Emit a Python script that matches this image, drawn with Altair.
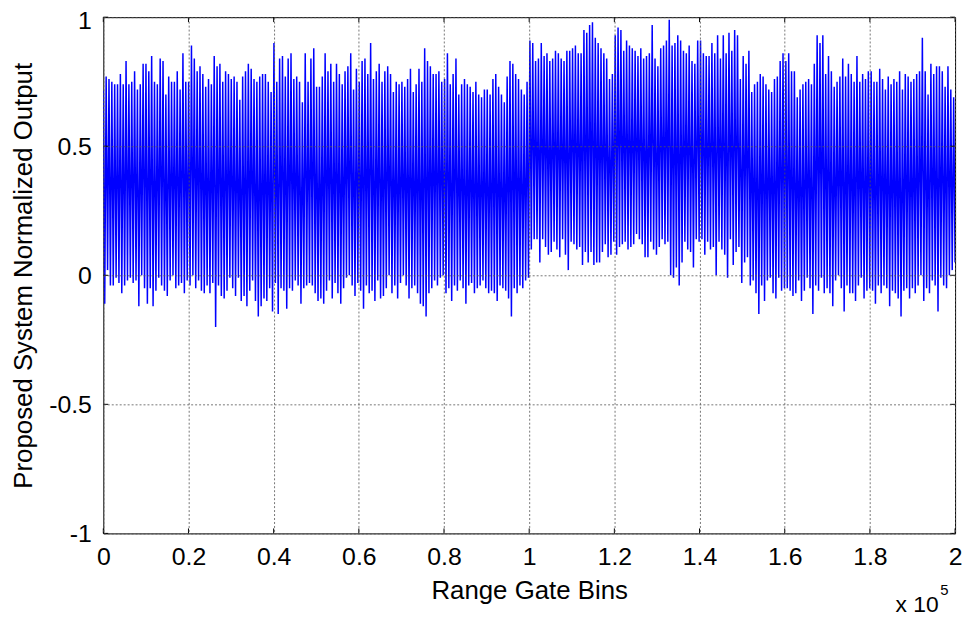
import altair as alt
import pandas as pd

# ---- axis ticks ----
x_ticks = [0, 20000, 40000, 60000, 80000, 100000, 120000, 140000, 160000, 180000, 200000]
y_ticks = [-1, -0.5, 0, 0.5, 1]

# ---- signal: successive peak (hi) and trough (lo) values, in hundredths, read block by block (0.2e5 bins per block) ----
hi_b1 = [72, 77, 76, 75, 74, 74, 78, 74, 83, 74, 75, 79, 72, 74, 82, 82, 79, 85, 75, 74, 84, 83, 70, 77, 75, 75, 79, 72, 86, 75]
lo_b1 = [-11, 2, -4, -4, -1, -3, -7, -4, -2, -1, -3, -2, -12, 0, -5, -11, -5, -12, -6, -1, -4, -6, -8, -2, 0, -5, -4, -3, -7, -2]
hi_b2 = [75, 89, 84, 79, 81, 78, 73, 76, 74, 85, 81, 82, 75, 79, 78, 76, 77, 75, 68, 77, 79, 82, 80, 76, 75, 77, 78, 78, 75, 71]
lo_b2 = [-4, 0, -5, -2, -6, -7, -4, -7, -3, -20, -4, -8, -9, -6, -1, -5, -8, -1, -10, -8, -12, -6, -2, -10, -16, -12, -9, -10, -5, -14]
hi_b3 = [90, 75, 84, 85, 77, 84, 86, 76, 77, 75, 67, 86, 75, 84, 88, 73, 73, 77, 86, 79, 82, 75, 82, 78, 74, 79, 81, 86, 72, 80]
lo_b3 = [-3, -15, -5, -6, -13, -5, -6, -2, -4, -11, -5, -4, -3, -4, -7, -10, -9, -11, -6, -2, -9, -3, -7, -11, -5, -1, 0, -4, -8, -3]
hi_b4 = [75, 83, 84, 78, 90, 76, 79, 82, 75, 79, 81, 78, 71, 75, 74, 75, 73, 76, 80, 71, 74, 80, 75, 88, 83, 81, 78, 78, 79, 75]
lo_b4 = [-6, -13, -4, -7, -6, -10, -2, -9, -8, -5, 0, -7, -4, -9, -3, 0, -4, -9, -5, -4, -7, -11, -12, -16, -7, -5, -2, -4, -1, 0]
hi_b5 = [76, 86, 74, 78, 84, 70, 74, 76, 74, 73, 71, 75, 70, 69, 72, 72, 70, 76, 78, 73, 70, 67, 77, 83, 82, 78, 76, 72, 70, 75]
lo_b5 = [-7, -5, -10, -4, -6, -2, -5, -11, -4, -3, -7, -5, -4, -2, -5, -7, -6, -7, -10, -4, -5, -6, -9, -16, -5, -7, -4, -5, -2, -1]
hi_b6 = [91, 90, 83, 84, 90, 85, 86, 83, 84, 87, 86, 84, 83, 87, 87, 88, 89, 86, 86, 95, 94, 97, 98, 92, 90, 88, 86, 84, 76, 78]
lo_b6 = [10, 14, 14, 5, 14, 11, 8, 9, 13, 10, 7, 14, 8, 2, 13, 12, 10, 11, 4, 9, 5, 9, 4, 5, 5, 9, 12, 7, 8, 13]
hi_b7 = [93, 96, 95, 87, 91, 89, 88, 87, 85, 88, 84, 85, 86, 97, 84, 81, 88, 89, 91, 99, 89, 90, 93, 91, 87, 86, 89, 83, 82, 91]
lo_b7 = [8, 11, 12, 13, 10, 11, 12, 16, 14, 12, 7, 7, 13, 10, 8, 11, 14, 12, 13, 0, -1, 3, -4, 5, 13, 10, 9, 3, 14, 13]
hi_b8 = [91, 86, 85, 85, 90, 86, 93, 84, 93, 86, 94, 87, 95, 93, 76, 85, 82, 87, 71, 74, 75, 78, 77, 74, 72, 71, 76, 77, 83, 86]
lo_b8 = [14, 8, 13, 10, 11, 0, 13, 10, 8, -1, 14, 4, 9, 11, -3, 5, 7, -4, -2, -7, -15, -4, -10, -2, -1, -7, -9, -1, -6, -5]
hi_b9 = [83, 86, 79, 79, 69, 72, 74, 75, 76, 74, 82, 93, 90, 93, 78, 85, 79, 73, 75, 77, 84, 77, 82, 78, 75, 85, 75, 78, 76, 79]
lo_b9 = [-5, -6, -8, -7, -2, -10, -6, -1, -5, -15, -4, -6, -1, -7, -5, -7, -12, -2, 0, -5, -14, -4, -7, -7, -10, -4, -1, -9, -6, -5]
hi_b10 = [79, 75, 75, 80, 76, 72, 77, 74, 76, 75, 79, 72, 78, 77, 75, 76, 78, 79, 92, 79, 70, 82, 78, 81, 81, 79, 73, 81, 72, 69]
lo_b10 = [-6, -11, -4, -7, -4, -5, -12, -6, -7, -9, -16, -6, -5, -9, -5, -7, -4, 0, -10, -5, -7, -2, -4, -14, -1, -4, -5, 0, 2, 5]

hi = hi_b1 + hi_b2 + hi_b3 + hi_b4 + hi_b5 + hi_b6 + hi_b7 + hi_b8 + hi_b9 + hi_b10
lo = lo_b1 + lo_b2 + lo_b3 + lo_b4 + lo_b5 + lo_b6 + lo_b7 + lo_b8 + lo_b9 + lo_b10

ys = []
for h, l in zip(hi, lo):
    ys.append(h / 100.0)
    ys.append(l / 100.0)
n = len(ys)
xs = [i * 200000.0 / (n - 1) for i in range(n)]
df = pd.DataFrame({"bin": xs, "out": ys})

xt_df = pd.DataFrame({"bin": x_ticks})
yt_df = pd.DataFrame({"out": y_ticks})

W, H = 858, 520
FONT = "Liberation Sans"
TICK = 5

xscale = alt.Scale(domain=[0, 200000], nice=False, zero=False)
yscale = alt.Scale(domain=[-1, 1], nice=False, zero=False)

x_axis = alt.Axis(
    values=x_ticks, labelExpr="'' + (datum.value / 100000)", title="Range Gate Bins",
    ticks=False, domain=False, grid=True, gridColor="#555555", gridDash=[2, 2], gridWidth=0.8,
    zindex=1, labelFont=FONT, labelFontSize=25, labelColor="#000000", labelPadding=11,
    labelFlush=False, titleFont=FONT, titleFontSize=26, titleFontWeight="normal",
    titleColor="#000000", titlePadding=9)
y_axis = alt.Axis(
    values=y_ticks, labelExpr="'' + datum.value", title="Proposed System Normalized Output",
    ticks=False, domain=False, grid=True, gridColor="#555555", gridDash=[2, 2], gridWidth=0.8,
    zindex=1, labelFont=FONT, labelFontSize=25, labelColor="#000000", labelPadding=12,
    labelOffset={"condition": {"test": "datum.value === 1", "value": 3}, "value": 0},
    labelFlush=False, titleFont=FONT, titleFontSize=26, titleFontWeight="normal",
    titleColor="#000000", titlePadding=12)

line = alt.Chart(df).mark_line(color="#0000ff", strokeWidth=1.5, clip=True).encode(
    x=alt.X("bin:Q", scale=xscale, axis=x_axis),
    y=alt.Y("out:Q", scale=yscale, axis=y_axis),
)

tick_bottom = alt.Chart(xt_df).mark_rule(color="black", strokeWidth=1).encode(
    x=alt.X("bin:Q", scale=xscale, axis=x_axis), y=alt.value(H), y2=alt.value(H - TICK))
tick_top = alt.Chart(xt_df).mark_rule(color="black", strokeWidth=1).encode(
    x=alt.X("bin:Q", scale=xscale, axis=x_axis), y=alt.value(0), y2=alt.value(TICK))
tick_left = alt.Chart(yt_df).mark_rule(color="black", strokeWidth=1).encode(
    y=alt.Y("out:Q", scale=yscale, axis=y_axis), x=alt.value(0), x2=alt.value(TICK))
tick_right = alt.Chart(yt_df).mark_rule(color="black", strokeWidth=1).encode(
    y=alt.Y("out:Q", scale=yscale, axis=y_axis), x=alt.value(W), x2=alt.value(W - TICK))

exp_base = alt.Chart(pd.DataFrame({"s": ["x 10"]})).mark_text(
    align="left", baseline="alphabetic", font=FONT, fontSize=23, color="black").encode(
    text="s:N", x=alt.value(798), y=alt.value(599))
exp_sup = alt.Chart(pd.DataFrame({"s": ["5"]})).mark_text(
    align="left", baseline="alphabetic", font=FONT, fontSize=15, color="black").encode(
    text="s:N", x=alt.value(843), y=alt.value(582))

chart = alt.layer(line, tick_bottom, tick_top, tick_left, tick_right, exp_base, exp_sup).properties(
    width=W, height=H,
    autosize=alt.AutoSizeParams(type="none"),
    padding={"left": 96, "top": 7, "right": 10, "bottom": 86},
    background="white",
).configure_view(stroke="black", strokeWidth=1)

chart.save("out.html", embed_options={"renderer": "svg", "actions": False})
